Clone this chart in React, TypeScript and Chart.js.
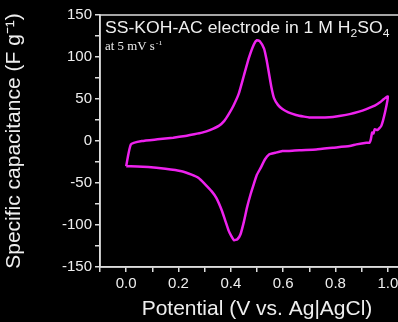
import React, { useEffect, useRef } from "react";
import { Chart, registerables } from "chart.js";

Chart.register(...registerables);

const potential: number[] = [
  0.0, 0.018, 0.06, 0.12, 0.18, 0.226, 0.26, 0.29, 0.32, 0.354, 0.375, 0.392, 0.41, 0.43, 0.45, 0.469, 0.488, 0.5, 0.51,
  0.527, 0.537, 0.546, 0.555, 0.565, 0.58, 0.597, 0.62, 0.649, 0.68, 0.7, 0.726, 0.76, 0.79, 0.82, 0.854, 0.89, 0.918,
  0.95, 0.97, 0.985, 1.0, 0.99, 0.975, 0.96, 0.95, 0.945, 0.94, 0.935, 0.93, 0.918, 0.88, 0.854, 0.79, 0.726, 0.662,
  0.62, 0.597, 0.57, 0.546, 0.53, 0.514, 0.5, 0.488, 0.475, 0.462, 0.45, 0.437, 0.425, 0.412, 0.4, 0.392, 0.38, 0.366,
  0.345, 0.327, 0.3, 0.277, 0.25, 0.212, 0.15, 0.085, 0.0,
];
const capacitance: number[] = [
  -30, -4, 0, 2, 4, 6, 8, 10, 13, 18, 24, 32, 42, 56, 78, 99, 115, 120, 119, 110, 96, 80, 64, 51, 43, 38, 34, 31, 29, 28,
  28, 28, 28.6, 30, 32, 35, 38, 42, 46, 50, 53, 35, 18, 13, 14, 9, 10, 2, -2, -2, -4, -6, -8, -10, -11, -12, -12, -14,
  -16, -22, -32, -40, -51, -64, -79, -96, -111, -117, -118, -112, -107, -96, -83, -68, -60, -51, -44, -40, -36, -33,
  -31, -30,
];

const xTicksLabeled: number[] = [0.0, 0.2, 0.4, 0.6, 0.8, 1.0];
const yTicksLabeled: number[] = [-150, -100, -50, 0, 50, 100, 150];

const xTitle = "Potential (V vs. Ag|AgCl)";
const yTitle = "Specific capacitance (F g\u207B\u00B9)";
const titleParts = ["SS-KOH-AC electrode in 1 M H", "2", "SO", "4"];
const subTitle = ["at 5 mV s", "-1"];

const FONT = "'Liberation Sans', Arial, sans-serif";
const SERIF = "'Liberation Serif', 'Times New Roman', serif";
const TEXT = "#eeeeee";
const AXIS = "#dddddd";
const CURVE = "#ee22ee";

export default function App() {
  const ref = useRef<HTMLCanvasElement | null>(null);

  useEffect(() => {
    const canvas = ref.current;
    if (!canvas) return;
    const frame = {
      id: "frame",
      afterDraw(chart: any) {
        const { ctx, chartArea } = chart;
        ctx.save();
        ctx.strokeStyle = AXIS;
        ctx.lineWidth = 1.5;
        ctx.strokeRect(chartArea.left, chartArea.top, chartArea.right - chartArea.left, chartArea.bottom - chartArea.top);
        ctx.restore();

        // title text
        ctx.save();
        ctx.fillStyle = TEXT;
        ctx.textBaseline = "alphabetic";
        ctx.translate(chartArea.left + 5, chartArea.top + 18);
        ctx.scale(1.1, 1);
        let x = 0;
        titleParts.forEach((p, i) => {
          const sub = i % 2 === 1;
          ctx.font = `${sub ? 11 : 16}px ${FONT}`;
          ctx.fillText(p, x, sub ? 4 : 0);
          x += ctx.measureText(p).width;
        });
        ctx.restore();

        ctx.save();
        ctx.fillStyle = TEXT;
        ctx.translate(chartArea.left + 5, chartArea.top + 35);
        ctx.scale(1.12, 1);
        ctx.font = `11.5px ${SERIF}`;
        ctx.fillText(subTitle[0], 0, 0);
        const w = ctx.measureText(subTitle[0]).width;
        ctx.font = `7px ${SERIF}`;
        ctx.fillText(subTitle[1], w + 1, -5);
        ctx.restore();
      },
    };

    const chart = new Chart(canvas, {
      type: "scatter",
      data: {
        datasets: [
          {
            data: potential.map((p, i) => ({ x: p, y: capacitance[i] })),
            showLine: true,
            borderColor: CURVE,
            borderWidth: 2.5,
            pointRadius: 0,
            tension: 0.15,
          },
        ],
      },
      options: {
        animation: false,
        responsive: false,
        maintainAspectRatio: false,
        layout: { padding: { left: 0, top: 15, right: 16, bottom: 0 } },
        plugins: { legend: { display: false }, tooltip: { enabled: false } },
        scales: {
          x: {
            type: "linear",
            min: -0.1,
            max: 1.1,
            afterFit: (s: any) => {
              s.height = 55;
            },
            ticks: {
              stepSize: 0.1,
              color: TEXT,
              padding: 3,
              font: { family: FONT, size: 15 },
              autoSkip: false,
              maxRotation: 0,
              callback: (v: any) => {
                const n = Number(v);
                const hit = xTicksLabeled.find((t) => Math.abs(t - n) < 1e-6);
                return hit !== undefined ? hit.toFixed(1) : "";
              },
            },
            grid: { drawOnChartArea: false, color: AXIS, tickLength: 5, lineWidth: 1.5 },
            border: { color: AXIS, width: 1.5 },
            title: {
              display: true,
              text: xTitle,
              color: TEXT,
              font: { family: FONT, size: 21 },
              padding: { top: 0, bottom: 0 },
            },
          },
          y: {
            type: "linear",
            min: -150,
            max: 150,
            afterFit: (s: any) => {
              s.width = 100;
            },
            ticks: {
              stepSize: 25,
              color: TEXT,
              padding: 3,
              font: { family: FONT, size: 15 },
              autoSkip: false,
              callback: (v: any) => {
                const n = Number(v);
                return yTicksLabeled.includes(n) ? String(n) : "";
              },
            },
            grid: { drawOnChartArea: false, color: AXIS, tickLength: 5, lineWidth: 1.5 },
            border: { color: AXIS, width: 1.5 },
            title: {
              display: true,
              text: yTitle,
              color: TEXT,
              font: { family: FONT, size: 21 },
              padding: { top: 2, bottom: 0 },
            },
          },
        },
      },
      plugins: [frame],
    });
    return () => chart.destroy();
  }, []);

  return (
    <div
      style={{
        position: "fixed",
        left: 0,
        top: 0,
        width: 398,
        height: 322,
        overflow: "hidden",
        background: "#000",
      }}
    >
      <canvas ref={ref} width={430} height={322} style={{ width: 430, height: 322, display: "block" }} />
    </div>
  );
}
